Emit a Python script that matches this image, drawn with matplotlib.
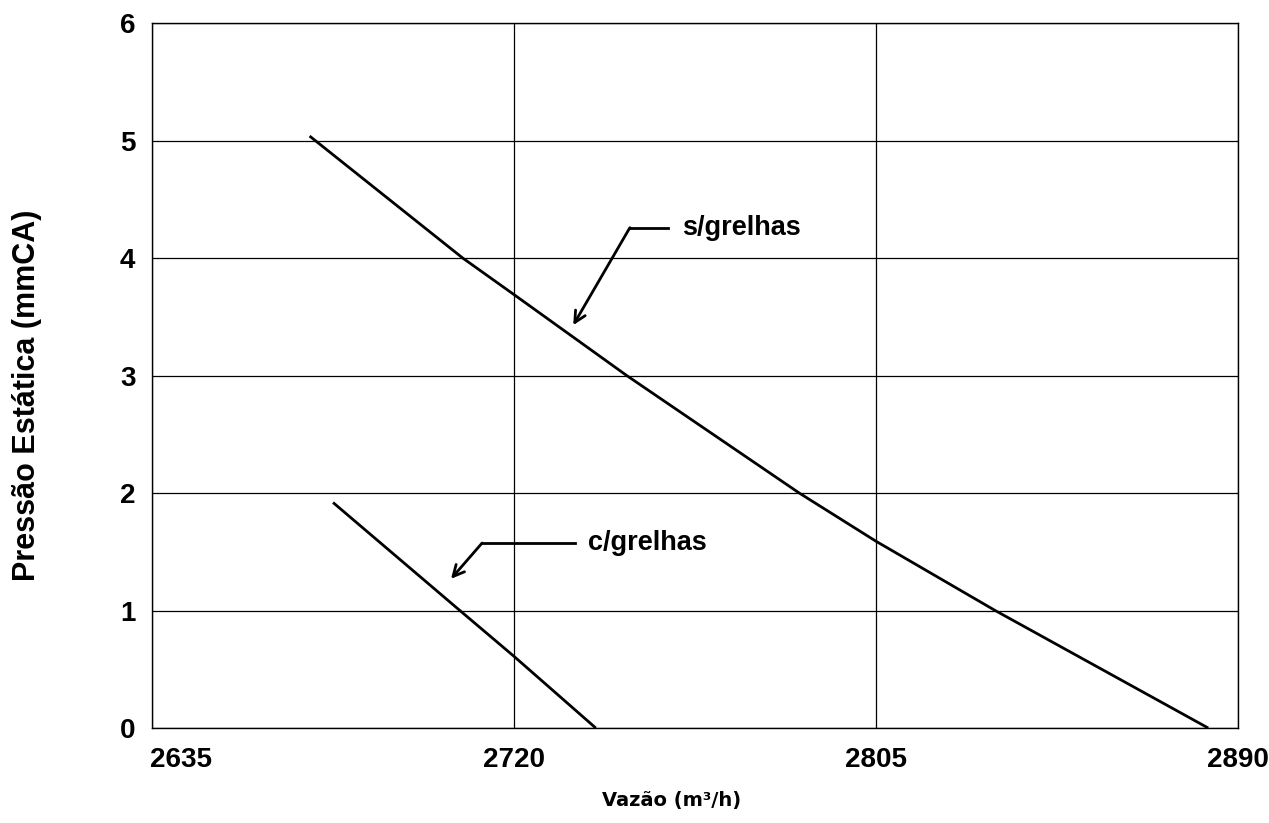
import matplotlib
matplotlib.use('Agg')
import matplotlib.pyplot as plt
from matplotlib.transforms import ScaledTranslation

# curvas
s_vazao = [2672, 2708, 2720, 2746.5, 2787, 2805, 2833, 2883]
s_pressao = [5.04, 4.0, 3.69, 3.0, 2.0, 1.59, 1.0, 0.0]

c_vazao = [2677.5, 2707.3, 2720, 2739.2]
c_pressao = [1.92, 1.0, 0.61, 0.0]

x_ticks = [2635, 2720, 2805, 2890]
y_ticks = [0, 1, 2, 3, 4, 5, 6]

plt.rcParams['font.family'] = ['Liberation Sans', 'DejaVu Sans']
plt.rcParams['font.weight'] = 'bold'

fig = plt.figure(figsize=(12.69, 8.23), dpi=100)
ax = fig.add_axes([0.1198, 0.1154, 0.8558, 0.8563])

ax.plot(s_vazao, s_pressao, color='black', lw=2.0, solid_capstyle='butt')
ax.plot(c_vazao, c_pressao, color='black', lw=2.0, solid_capstyle='butt')

ax.set_xlim(2635, 2890)
ax.set_ylim(0, 6)
ax.set_xticks(x_ticks)
ax.set_yticks(y_ticks)
ax.grid(True, color='black', lw=0.9)
ax.set_axisbelow(True)
for sp in ax.spines.values():
    sp.set_color('black')
    sp.set_linewidth(1.0)

ax.tick_params(axis='both', length=0, labelsize=20)
ax.tick_params(axis='x', pad=14)
ax.tick_params(axis='y', pad=12)
for lbl in ax.get_xticklabels() + ax.get_yticklabels():
    lbl.set_fontweight('bold')
# primeiro rótulo do eixo x fica deslocado para dentro, como no Excel
first = ax.get_xticklabels()[0]
first.set_horizontalalignment('left')
first.set_transform(first.get_transform() + ScaledTranslation(-2/100, 0, fig.dpi_scale_trans))

fig.text(0.021, 0.52, 'Pressão Estática (mmCA)', rotation=90, fontsize=22,
         fontweight='bold', ha='center', va='center')
fig.text(0.529, 0.027, 'Vazão (m³/h)', fontsize=14, fontweight='bold',
         family=['DejaVu Sans'], ha='center', va='center')

# anotações com seta
arrow = dict(arrowstyle='->,head_length=0.8,head_width=0.4',
             color='black', lw=2.0, shrinkA=0, shrinkB=0)
ax.plot([2747.2, 2756.2], [4.26, 4.26], color='black', lw=2.0)
ax.annotate('', xy=(2733.9, 3.43), xytext=(2747.2, 4.26), arrowprops=arrow)
ax.text(2759.4, 4.26, 's/grelhas', fontsize=19.5, fontweight='bold', va='center', ha='left')

ax.plot([2712.5, 2734.3], [1.575, 1.575], color='black', lw=2.0)
ax.annotate('', xy=(2705.2, 1.27), xytext=(2712.5, 1.575), arrowprops=arrow)
ax.text(2737.4, 1.575, 'c/grelhas', fontsize=19.5, fontweight='bold', va='center', ha='left')

fig.savefig('out.png', dpi=100)
